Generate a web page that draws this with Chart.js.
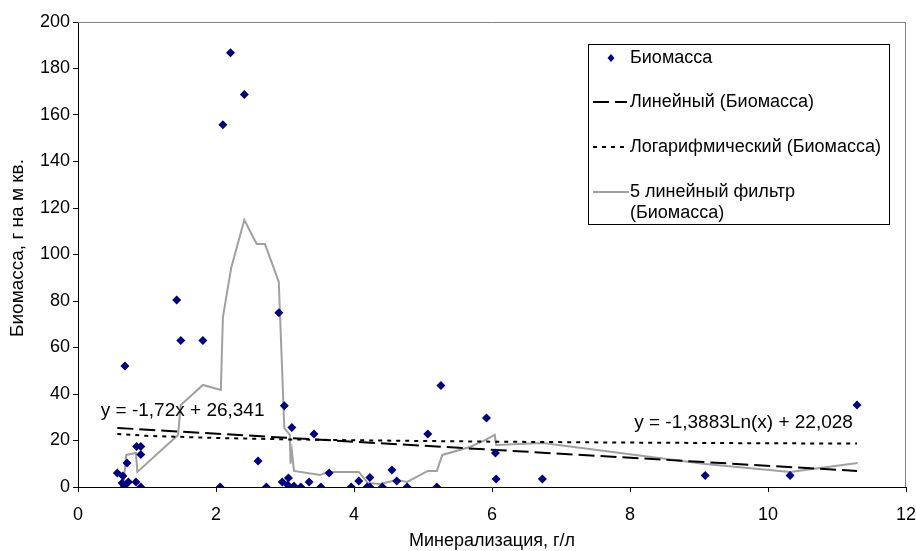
<!DOCTYPE html>
<html lang="ru">
<head>
<meta charset="UTF-8"/>
<title>Биомасса</title>
<script src="https://cdn.jsdelivr.net/npm/chart.js@4.4.7/dist/chart.umd.min.js"></script>
<style>
*{margin:0;padding:0}
body{background:#fff;width:916px;height:551px;overflow:hidden}
#wrap{position:relative;width:916px;height:551px}
</style>
</head>
<body>
<div id="wrap"><canvas id="c" width="916" height="551"></canvas></div>
<script>
// Минерализация, г/л  ->  Биомасса, г на м кв.
const mineral = [0.57, 0.64, 0.65, 0.67, 0.68, 0.71, 0.73, 0.84, 0.85, 0.91, 0.91, 0.91,
  1.43, 1.49, 1.81, 2.06, 2.10, 2.21, 2.41, 2.61, 2.73, 2.91, 2.96, 2.99, 3.04, 3.05,
  3.10, 3.13, 3.23, 3.35, 3.42, 3.52, 3.64, 3.96, 4.07, 4.19, 4.23, 4.23, 4.41, 4.55,
  4.62, 4.77, 5.07, 5.20, 5.26, 5.92, 6.05, 6.06, 6.73, 9.09, 10.32, 11.29];
const biomass = [6.0, 1.7, 4.7, 0.4, 52, 10.3, 2.2, 2.2, 17.4, 17.4, 14.0, 0,
  80.4, 63, 63, 0, 155.8, 186.8, 168.8, 11.2, 0, 75, 2.2, 35, 0.9, 3.9,
  25.6, 0.4, 0, 2.2, 22.8, 0, 6.0, 0, 2.6, 0, 0, 4.1, 0, 7.3,
  2.6, 0, 22.8, 0, 43.7, 29.7, 14.6, 3.4, 3.4, 4.9, 5.0, 35.3];

// 5 линейный фильтр — vertices
const maX = [0.66, 0.70, 0.84, 0.86, 1.45, 1.49, 1.81, 2.07, 2.10, 2.22, 2.41, 2.59, 2.71,
  2.91, 2.99, 3.07, 3.08, 3.10, 3.13, 3.51, 3.62, 4.07, 4.20, 4.38, 4.62, 4.77, 5.07,
  5.20, 5.28, 5.68, 5.90, 6.04, 6.06, 6.74, 9.09, 10.32, 11.30];
const maY = [1.7, 13.8, 14.6, 6.5, 22.4, 35.3, 43.9, 41.7, 73.1, 94.2, 114.8, 104.5, 104.5,
  88.2, 25.4, 22.4, 10.0, 15.5, 6.9, 5.2, 6.5, 6.5, 1.7, 1.3, 3.0, 2.2, 6.9,
  6.9, 13.8, 17.2, 20.2, 22.4, 18.1, 18.9, 9.9, 6.5, 10.3];

// trend lines
const linX = [0.57, 11.29];
const linY = [25.4, 6.9];
const logX = [0.57, 1, 2, 3, 4, 6, 8, 10, 11.29];
const logY = [22.8, 22.0, 21.1, 20.5, 20.1, 19.5, 19.1, 18.8, 18.7];

const xTicks = [0, 2, 4, 6, 8, 10, 12];
const yTicks = [0, 20, 40, 60, 80, 100, 120, 140, 160, 180, 200];

const linEq = 'y = -1,72x + 26,341';
const logEq = 'y = -1,3883Ln(x) + 22,028';
const xTitle = 'Минерализация, г/л';
const yTitle = 'Биомасса, г на м кв.';

const FONT = 'Arial, "Liberation Sans", sans-serif';
const LONG_DASH = [16, 6];
const DOTS = [4, 5];
const pts = (xs, ys) => xs.map((x, i) => ({ x, y: ys[i] }));

const frame = {
  id: 'frame',
  beforeDatasetsDraw(chart) {
    const { ctx, chartArea: a } = chart;
    ctx.save();
    ctx.strokeStyle = '#808080';
    ctx.lineWidth = 1;
    ctx.beginPath();
    ctx.moveTo(a.left, a.top + 0.5);
    ctx.lineTo(a.right - 0.5, a.top + 0.5);
    ctx.lineTo(a.right - 0.5, a.bottom);
    ctx.stroke();
    ctx.restore();
  }
};

const labels = {
  id: 'labels',
  afterDatasetsDraw(chart) {
    const { ctx, chartArea: a, scales: { x, y } } = chart;
    ctx.save();
    ctx.fillStyle = '#000';
    ctx.textBaseline = 'middle';

    // axis titles
    ctx.font = '18px ' + FONT;
    ctx.textAlign = 'center';
    ctx.fillText(xTitle, (a.left + a.right) / 2, 541);
    ctx.save();
    ctx.translate(18, 248);
    ctx.rotate(-Math.PI / 2);
    ctx.font = '19px ' + FONT;
    ctx.fillText(yTitle, 0, 0);
    ctx.restore();

    // trend equations
    ctx.font = '19px ' + FONT;
    ctx.textAlign = 'left';
    ctx.fillText(linEq, x.getPixelForValue(0.33), y.getPixelForValue(32.7));
    ctx.textAlign = 'right';
    ctx.fillText(logEq, x.getPixelForValue(11.23), y.getPixelForValue(27.5));

    // legend
    const L = 588, T = 44, R = 889, B = 224;
    ctx.fillStyle = '#fff';
    ctx.fillRect(L, T, R - L, B - T);
    ctx.strokeStyle = '#000';
    ctx.lineWidth = 1;
    ctx.strokeRect(L + 0.5, T + 0.5, R - L, B - T);
    ctx.font = '18px ' + FONT;
    ctx.textAlign = 'left';
    const tx = 630;
    ctx.fillStyle = '#000080';
    ctx.beginPath();
    ctx.moveTo(611, 54); ctx.lineTo(614.5, 58); ctx.lineTo(611, 62); ctx.lineTo(607.5, 58);
    ctx.closePath(); ctx.fill();
    ctx.fillStyle = '#000';
    ctx.fillText('Биомасса', tx, 58);
    ctx.lineWidth = 2;
    ctx.setLineDash(LONG_DASH);
    ctx.beginPath(); ctx.moveTo(593, 102); ctx.lineTo(627, 102); ctx.stroke();
    ctx.fillText('Линейный (Биомасса)', tx, 102);
    ctx.setLineDash(DOTS);
    ctx.beginPath(); ctx.moveTo(593, 147); ctx.lineTo(627, 147); ctx.stroke();
    ctx.fillText('Логарифмический (Биомасса)', tx, 147);
    ctx.setLineDash([]);
    ctx.strokeStyle = '#a0a0a0';
    ctx.beginPath(); ctx.moveTo(593, 192); ctx.lineTo(629, 192); ctx.stroke();
    ctx.fillText('5 линейный фильтр', tx, 192);
    ctx.fillText('(Биомасса)', tx, 213);
    ctx.restore();
  }
};

new Chart(document.getElementById('c'), {
  type: 'scatter',
  data: {
    datasets: [
      { label: 'Биомасса', data: pts(mineral, biomass), pointStyle: 'rectRot', radius: 4.5,
        backgroundColor: '#000080', borderColor: '#000080', borderWidth: 0, order: 1 },
      { label: '5 линейный фильтр (Биомасса)', data: pts(maX, maY), showLine: true, pointRadius: 0,
        borderColor: '#a0a0a0', borderWidth: 2, order: 4 },
      { label: 'Линейный (Биомасса)', data: pts(linX, linY), showLine: true, pointRadius: 0,
        borderColor: '#000', borderWidth: 2, borderDash: LONG_DASH, order: 2 },
      { label: 'Логарифмический (Биомасса)', data: pts(logX, logY), showLine: true, pointRadius: 0,
        borderColor: '#000', borderWidth: 2, borderDash: DOTS, order: 3 },
    ]
  },
  options: {
    responsive: false,
    animation: false,
    events: [],
    layout: { padding: { top: 22, right: 0, left: 0, bottom: 0 } },
    plugins: { legend: { display: false }, tooltip: { enabled: false } },
    scales: {
      x: {
        type: 'linear', min: 0, max: 12,
        afterFit: s => { s.height = 64; s.paddingRight = 10; },
        afterBuildTicks: s => { s.ticks = xTicks.map(v => ({ value: v })); },
        grid: { drawOnChartArea: false, drawTicks: true, tickLength: 5, color: '#000' },
        border: { color: '#000', width: 1 },
        ticks: { color: '#000', font: { family: FONT, size: 18 }, padding: 12, maxRotation: 0 },
        title: { display: false }
      },
      y: {
        type: 'linear', min: 0, max: 200,
        afterFit: s => { s.width = 78; s.paddingTop = 0; s.paddingBottom = 0; },
        afterBuildTicks: s => { s.ticks = yTicks.map(v => ({ value: v })); },
        grid: { drawOnChartArea: false, drawTicks: true, tickLength: 5, color: '#000' },
        border: { color: '#000', width: 1 },
        ticks: { color: '#000', font: { family: FONT, size: 18 }, padding: 3 },
        title: { display: false }
      }
    }
  },
  plugins: [frame, labels]
});
</script>
</body>
</html>
